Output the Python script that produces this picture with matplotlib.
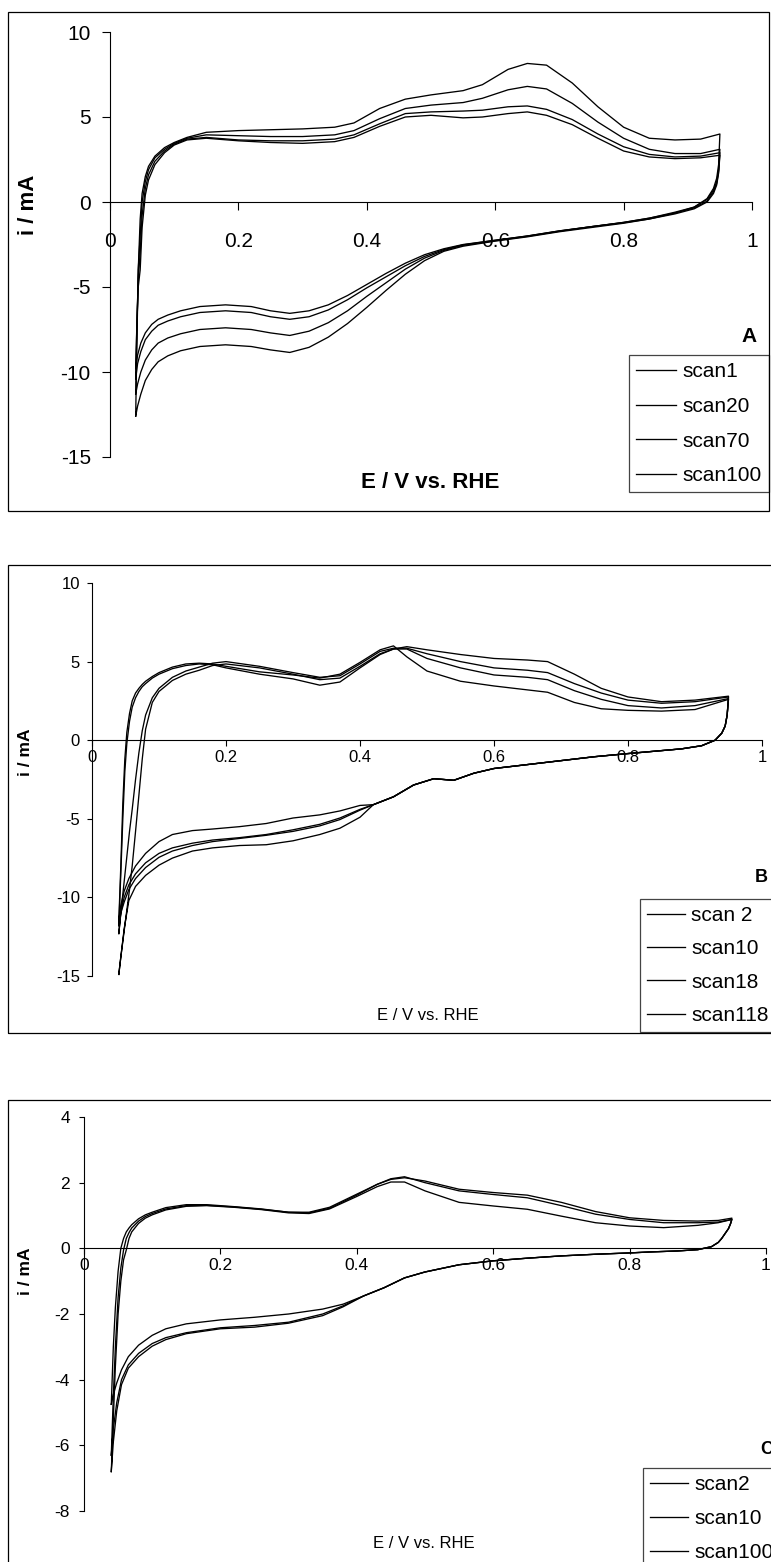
import matplotlib
matplotlib.use('Agg')
import matplotlib.pyplot as plt
from matplotlib.patches import Rectangle

plt.rcParams['font.family'] = ['Liberation Sans', 'DejaVu Sans']
plt.rcParams['axes.unicode_minus'] = False

# ---------------- Panel A data ----------------
A_labels = ['scan1', 'scan20', 'scan70', 'scan100']
A_up_E = [0.040, 0.042, 0.044, 0.047, 0.050, 0.055, 0.060, 0.070, 0.085, 0.10, 0.12, 0.15,
          0.20, 0.25, 0.30, 0.35, 0.38, 0.42, 0.46, 0.50, 0.55, 0.58, 0.62, 0.65, 0.68,
          0.72, 0.76, 0.80, 0.84, 0.88, 0.92, 0.95]
A_up_1 = [-12.6, -8.0, -4.0, -1.0, 0.5, 1.5, 2.1, 2.7, 3.2, 3.5, 3.8, 4.1, 4.2, 4.25, 4.3,
          4.4, 4.65, 5.5, 6.05, 6.3, 6.55, 6.9, 7.8, 8.15, 8.05, 7.0, 5.6, 4.4, 3.75, 3.65, 3.7, 4.0]
A_up_2 = [-11.3, -7.5, -4.0, -2.0, 0.0, 1.2, 1.9, 2.6, 3.1, 3.45, 3.75, 3.95, 3.9, 3.85, 3.85,
          3.95, 4.2, 4.9, 5.5, 5.7, 5.85, 6.1, 6.6, 6.8, 6.65, 5.8, 4.7, 3.75, 3.1, 2.85, 2.85, 3.1]
A_up_3 = [-10.4, -7.0, -4.5, -3.0, -0.8, 0.8, 1.6, 2.4, 3.0, 3.4, 3.7, 3.8, 3.65, 3.6, 3.6,
          3.7, 3.95, 4.6, 5.2, 5.3, 5.35, 5.4, 5.6, 5.65, 5.45, 4.85, 4.0, 3.25, 2.8, 2.65, 2.7, 2.9]
A_up_4 = [-9.8, -7.0, -5.0, -4.0, -1.5, 0.4, 1.3, 2.2, 2.9, 3.35, 3.65, 3.75, 3.6, 3.5, 3.45,
          3.55, 3.8, 4.45, 5.0, 5.1, 4.95, 5.0, 5.2, 5.3, 5.1, 4.55, 3.75, 3.0, 2.65, 2.55, 2.6, 2.75]
A_dn_E = [0.948, 0.945, 0.94, 0.93, 0.91, 0.88, 0.84, 0.80, 0.75, 0.70, 0.65, 0.60, 0.55,
          0.52, 0.49, 0.46, 0.43, 0.40, 0.37, 0.34, 0.31, 0.28, 0.25, 0.22, 0.18, 0.14, 0.11,
          0.09, 0.075, 0.065, 0.055, 0.048, 0.043, 0.040]
A_dn_1 = [2.2, 1.4, 0.8, 0.2, -0.3, -0.65, -1.0, -1.25, -1.5, -1.75, -2.05, -2.3, -2.6,
          -2.9, -3.45, -4.25, -5.2, -6.2, -7.15, -7.95, -8.55, -8.85, -8.7, -8.5, -8.4, -8.5,
          -8.75, -9.05, -9.4, -9.85, -10.5, -11.3, -12.0, -12.6]
A_dn_2 = [1.9, 1.2, 0.7, 0.15, -0.3, -0.6, -0.95, -1.2, -1.45, -1.72, -2.02, -2.28, -2.55,
          -2.85, -3.3, -3.95, -4.75, -5.55, -6.4, -7.1, -7.6, -7.85, -7.7, -7.5, -7.4, -7.5,
          -7.75, -8.0, -8.3, -8.7, -9.3, -10.0, -10.7, -11.3]
A_dn_3 = [1.8, 1.1, 0.6, 0.05, -0.35, -0.65, -0.95, -1.2, -1.45, -1.7, -2.0, -2.25, -2.52,
          -2.8, -3.2, -3.75, -4.4, -5.05, -5.75, -6.35, -6.75, -6.9, -6.75, -6.5, -6.4, -6.5,
          -6.75, -7.0, -7.25, -7.6, -8.1, -8.8, -9.5, -10.4]
A_dn_4 = [1.7, 1.0, 0.5, 0.0, -0.4, -0.7, -1.0, -1.22, -1.45, -1.7, -2.0, -2.25, -2.5,
          -2.75, -3.1, -3.6, -4.2, -4.85, -5.5, -6.05, -6.4, -6.55, -6.4, -6.15, -6.05, -6.15,
          -6.4, -6.65, -6.9, -7.2, -7.7, -8.3, -9.0, -9.8]

# ---------------- Panel B data ----------------
B_labels = ['scan 2', 'scan10', 'scan18', 'scan118']
B_up_E = [0.040, 0.043, 0.046, 0.049, 0.052, 0.056, 0.060, 0.065, 0.070, 0.075, 0.080, 0.090,
          0.10, 0.12, 0.14, 0.16, 0.18, 0.20, 0.25, 0.30, 0.34, 0.37, 0.40, 0.43, 0.45, 0.47,
          0.50, 0.55, 0.60, 0.65, 0.68, 0.72, 0.76, 0.80, 0.85, 0.90, 0.95]
B_up_1 = [-11.5, -8.0, -4.0, -1.2, 0.5, 1.7, 2.5, 3.0, 3.3, 3.55, 3.75, 4.05, 4.3, 4.65, 4.85,
          4.9, 4.85, 4.7, 4.35, 4.15, 3.95, 4.2, 4.95, 5.75, 6.0,
          5.3, 4.4, 3.75, 3.45, 3.2, 3.05, 2.4, 2.0, 1.9, 1.85, 1.95, 2.6]
B_up_2 = [-11.8, -8.5, -5.0, -2.0, -0.2, 1.2, 2.1, 2.7, 3.1, 3.4, 3.6, 3.95, 4.2, 4.55, 4.75,
          4.85, 4.8, 4.6, 4.2, 3.9, 3.5, 3.7, 4.6, 5.45, 5.8,
          5.8, 5.2, 4.6, 4.15, 4.0, 3.85, 3.15, 2.6, 2.2, 2.05, 2.2, 2.65]
B_up_3 = [-12.3, -11.0, -9.8, -8.6, -7.4, -5.8, -4.4, -2.5, -0.8, 0.6, 1.6, 2.7, 3.3, 4.0, 4.4,
          4.65, 4.9, 5.0, 4.7, 4.3, 4.0, 4.1, 4.85, 5.65, 5.85,
          5.85, 5.5, 5.0, 4.6, 4.45, 4.3, 3.6, 3.0, 2.55, 2.35, 2.45, 2.75]
B_up_4 = [-14.9, -13.8, -12.8, -11.8, -10.8, -9.5, -8.0, -5.8, -3.5, -1.2, 0.7, 2.4, 3.1, 3.8, 4.2,
          4.45, 4.75, 4.85, 4.6, 4.2, 3.85, 3.95, 4.7, 5.5, 5.8,
          5.95, 5.75, 5.45, 5.2, 5.1, 5.0, 4.2, 3.3, 2.75, 2.45, 2.55, 2.8]
B_dn_E = [0.948, 0.945, 0.94, 0.93, 0.91, 0.88, 0.84, 0.80, 0.75, 0.70, 0.65, 0.60, 0.57,
          0.54, 0.51, 0.48, 0.45, 0.42, 0.40, 0.37, 0.34, 0.30, 0.26, 0.22, 0.18, 0.15, 0.12,
          0.10, 0.08, 0.065, 0.055, 0.048, 0.043, 0.040]
B_dn_common = [1.6, 0.9, 0.45, 0.0, -0.35, -0.55, -0.7, -0.85, -1.05, -1.3, -1.55, -1.8,
               -2.1, -2.55, -2.45, -2.85, -3.6, -4.1]
B_dn_1 = [-4.15, -4.5, -4.75, -4.95, -5.3, -5.5, -5.65, -5.75, -6.0, -6.45, -7.2, -8.0, -8.8,
          -9.6, -10.5, -11.5]
B_dn_2 = [-4.45, -5.05, -5.45, -5.8, -6.05, -6.25, -6.45, -6.7, -7.05, -7.45, -8.1, -8.8, -9.5,
          -10.3, -11.0, -11.8]
B_dn_3 = [-4.4, -4.95, -5.35, -5.7, -6.0, -6.2, -6.35, -6.55, -6.85, -7.2, -7.8, -8.5, -9.2,
          -10.0, -11.0, -12.3]
B_dn_4 = [-4.9, -5.6, -6.0, -6.4, -6.65, -6.7, -6.85, -7.05, -7.5, -7.95, -8.6, -9.3, -10.2,
          -12.0, -13.8, -14.9]

# ---------------- Panel C data ----------------
C_labels = ['scan2', 'scan10', 'scan100']
C_up_E = [0.040, 0.043, 0.046, 0.050, 0.054, 0.058, 0.062, 0.066, 0.07, 0.08, 0.09, 0.10,
          0.12, 0.15, 0.18, 0.22, 0.26, 0.30, 0.33, 0.36, 0.40, 0.43, 0.45, 0.47, 0.50, 0.55,
          0.60, 0.65, 0.70, 0.75, 0.80, 0.85, 0.90, 0.93, 0.95]
C_up_1 = [-4.75, -3.0, -1.8, -0.7, 0.0, 0.3, 0.5, 0.62, 0.72, 0.9, 1.02, 1.1, 1.24, 1.33, 1.33,
          1.27, 1.2, 1.1, 1.1, 1.25, 1.65, 1.95, 2.1, 2.15, 2.05, 1.8, 1.7, 1.62, 1.4, 1.12,
          0.93, 0.85, 0.83, 0.85, 0.92]
C_up_2 = [-6.3, -4.5, -3.0, -1.5, -0.6, -0.05, 0.3, 0.48, 0.62, 0.83, 0.97, 1.06, 1.2, 1.3, 1.31,
          1.26, 1.19, 1.1, 1.08, 1.22, 1.62, 1.95, 2.12, 2.18, 2.0, 1.75, 1.64, 1.54, 1.3, 1.04,
          0.88, 0.78, 0.78, 0.8, 0.88]
C_up_3 = [-6.8, -5.2, -3.6, -2.0, -1.0, -0.35, -0.05, 0.3, 0.5, 0.76, 0.92, 1.02, 1.17, 1.28, 1.3,
          1.25, 1.18, 1.08, 1.06, 1.2, 1.58, 1.88, 2.02, 2.02, 1.75, 1.4, 1.29, 1.19, 0.98, 0.78,
          0.68, 0.63, 0.7, 0.78, 0.88]
C_dn_E = [0.948, 0.945, 0.94, 0.935, 0.93, 0.92, 0.90, 0.87, 0.83, 0.80, 0.75, 0.70, 0.65,
          0.60, 0.55, 0.50, 0.47, 0.44, 0.41, 0.38, 0.35, 0.30, 0.25, 0.20, 0.15, 0.12, 0.10,
          0.08, 0.065, 0.055, 0.048, 0.043, 0.040]
C_dn_common = [0.75, 0.6, 0.45, 0.3, 0.18, 0.05, -0.04, -0.08, -0.11, -0.14, -0.18, -0.23,
               -0.3, -0.38, -0.5, -0.72, -0.9, -1.2, -1.45]
C_dn_1 = [-1.7, -1.85, -2.0, -2.1, -2.18, -2.3, -2.45, -2.65, -2.95, -3.3, -3.7, -4.1, -4.45, -4.75]
C_dn_2 = [-1.75, -2.0, -2.25, -2.35, -2.42, -2.57, -2.72, -2.9, -3.2, -3.55, -4.0, -4.7, -5.5, -6.3]
C_dn_3 = [-1.78, -2.05, -2.28, -2.4, -2.45, -2.6, -2.78, -2.98, -3.3, -3.65, -4.15, -4.95, -5.9, -6.8]

x_ticks = [0, 0.2, 0.4, 0.6, 0.8, 1]
x_ticklabels = ['0', '0.2', '0.4', '0.6', '0.8', '1']

W, H = 771, 1562
fig = plt.figure(figsize=(W / 100, H / 100), dpi=100)


def fx(px):
    return px / W


def fy(py):
    return 1 - py / H


def border(x0, y0, x1, y1):
    fig.add_artist(Rectangle((fx(x0), fy(y1)), (x1 - x0) / W, (y1 - y0) / H,
                             transform=fig.transFigure, fill=False, ec='black', lw=0.9))


def panel(px_left, px_right, py_top, py_bottom, ylim, yticks, up_E, ups, dn_E, dns, labels,
          tick_fs, ylen, ypad, xlen, xpad, leg_xy, leg_fs, leg_spacing, handlelen):
    ax = fig.add_axes([fx(px_left), fy(py_bottom), (px_right - px_left) / W,
                       (py_bottom - py_top) / H])
    handles = []
    for u, d in zip(ups, dns):
        E = list(up_E) + list(dn_E)
        i = list(u) + list(d)
        h, = ax.plot(E, i, color='black', lw=0.95)
        handles.append(h)
    ax.set_xlim(0, 1)
    ax.set_ylim(*ylim)
    ax.set_yticks(yticks)
    ax.set_yticklabels([str(v) for v in yticks])
    ax.set_xticks(x_ticks)
    ax.set_xticklabels(x_ticklabels)
    for s in ['top', 'right']:
        ax.spines[s].set_visible(False)
    ax.spines['bottom'].set_position(('data', 0))
    for s in ['left', 'bottom']:
        ax.spines[s].set_linewidth(0.8)
    ax.tick_params(axis='y', direction='out', length=ylen, width=0.8, pad=ypad,
                   labelsize=tick_fs)
    ax.tick_params(axis='x', direction='out', length=xlen, width=0.8, pad=xpad,
                   labelsize=tick_fs)
    ax.patch.set_alpha(0)
    leg = ax.legend(handles, labels, loc='upper left', bbox_to_anchor=(fx(leg_xy[0]), fy(leg_xy[1])),
                    bbox_transform=fig.transFigure, borderaxespad=0, fontsize=leg_fs,
                    frameon=True, fancybox=False, edgecolor='#444444', framealpha=1,
                    handlelength=handlelen, handletextpad=0.3, labelspacing=leg_spacing,
                    borderpad=0.35)
    leg.get_frame().set_linewidth(0.9)
    return ax


# Panel A
border(8, 12, 769, 511)
panel(110, 752, 32, 457, (-15, 10), [-15, -10, -5, 0, 5, 10], A_up_E,
      [A_up_1, A_up_2, A_up_3, A_up_4], A_dn_E, [A_dn_1, A_dn_2, A_dn_3, A_dn_4],
      A_labels, 15, 5.8, 8, 5.5, 16, (629, 355), 15, 0.75, 1.9)
fig.text(fx(28), fy(205), 'i / mA', rotation=90, ha='center', va='center',
         fontsize=16, fontweight='bold')
fig.text(fx(430), fy(482), 'E / V vs. RHE', ha='center', va='center',
         fontsize=16, fontweight='bold')
fig.text(fx(749), fy(336), 'A', ha='center', va='center', fontsize=15, fontweight='bold')

# Panel B
border(8, 565, 800, 1033)
panel(92, 762, 583, 976, (-15, 10), [-15, -10, -5, 0, 5, 10], B_up_E,
      [B_up_1, B_up_2, B_up_3, B_up_4], B_dn_E,
      [B_dn_common + B_dn_1, B_dn_common + B_dn_2, B_dn_common + B_dn_3, B_dn_common + B_dn_4],
      B_labels, 12, 3.6, 5, 4, 3, (640, 899), 15, 0.68, 1.8)
fig.text(fx(26), fy(752), 'i / mA', rotation=90, ha='center', va='center',
         fontsize=12.5, fontweight='bold')
fig.text(fx(428), fy(1016), 'E / V vs. RHE', ha='center', va='center', fontsize=12)
fig.text(fx(761), fy(878), 'B', ha='center', va='center', fontsize=13, fontweight='bold')

# Panel C
border(8, 1100, 800, 1600)
panel(84, 766, 1117, 1511, (-8, 4), [-8, -6, -4, -2, 0, 2, 4], C_up_E,
      [C_up_1, C_up_2, C_up_3], C_dn_E,
      [C_dn_common + C_dn_1, C_dn_common + C_dn_2, C_dn_common + C_dn_3],
      C_labels, 12.5, 3.6, 6.5, 4, 3, (643, 1468), 15, 0.72, 1.8)
fig.text(fx(25), fy(1271), 'i / mA', rotation=90, ha='center', va='center',
         fontsize=12.5, fontweight='bold')
fig.text(fx(424), fy(1543), 'E / V vs. RHE', ha='center', va='center', fontsize=12)
fig.text(fx(767), fy(1449), 'C', ha='center', va='center', fontsize=13, fontweight='bold')

fig.savefig('out.png', dpi=100, facecolor='white')
